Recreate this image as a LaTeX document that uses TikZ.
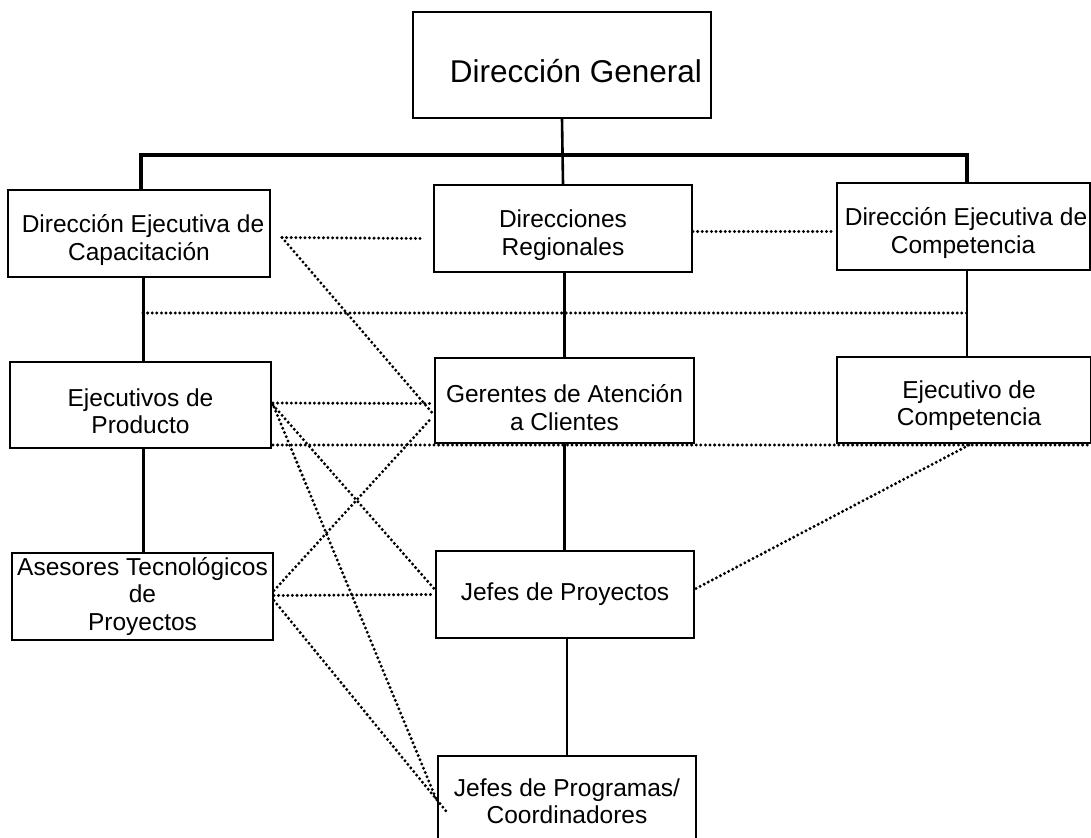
\documentclass[tikz,border=0pt]{standalone}
\usepackage{fontspec}
\setmainfont{Liberation Sans}
\usetikzlibrary{calc}
\newcommand{\topstrut}[1]{\rule{0pt}{#1}}
\begin{document}
\begin{tikzpicture}[x=1pt,y=-1pt,
  box/.style={draw, line width=2pt, inner sep=2pt, align=center,
    font=\fontsize{24.5}{27.5}\selectfont, minimum height=87pt},
  trunk/.style={line width=2.6pt},
  bus/.style={line width=3.6pt},
  dots/.style={line width=3.3pt, line cap=round, dash pattern=on 0pt off 4.6pt}]
\useasboundingbox[fill=white] (0,0) rectangle (1091,837);

% boxes
\node[box, minimum width=298pt, minimum height=106pt, font=\fontsize{31.5}{34}\selectfont] (DG) at (562,65) {\topstrut{35pt}\hspace*{28pt}Dirección General};
\node[box, minimum width=262pt] (DEC) at (139,233.5) {\topstrut{31pt}\hspace*{8pt}Dirección Ejecutiva de\\Capacitación};
\node[box, minimum width=258pt] (DR) at (563,228.5) {\topstrut{31pt}Direcciones\\Regionales};
\node[box, minimum width=253pt] (DECo) at (963,226.5) {\topstrut{31pt}\hspace*{6pt}Dirección Ejecutiva de\\Competencia};
\node[box, minimum width=261pt, minimum height=86pt] (EP) at (140.5,405) {\topstrut{30pt}Ejecutivos de\\Producto};
\node[box, minimum width=259pt, minimum height=85pt] (GAC) at (564.5,400.5) {\topstrut{32pt}Gerentes de Atención\\a Clientes};
\node[box, minimum width=254pt, minimum height=86pt] (EC) at (964,400) {\topstrut{29pt}\hspace*{10pt}Ejecutivo de\\\hspace*{10pt}Competencia};
\node[box, minimum width=261pt] (AT) at (142.5,596.5) {Asesores Tecnológicos\\de\\Proyectos};
\node[box, minimum width=258pt] (JP) at (565,594.5) {Jefes de Proyectos};
\node[box, minimum width=258pt, minimum height=90pt] (JPC) at (567,801) {Jefes de Programas/\\Coordinadores};

% solid hierarchy
\coordinate (busC) at (562,155);
\draw[trunk] (DG.south) -- (DR.north);
\draw[bus] ([xshift=2pt]DEC.north) |- (busC) -| ([xshift=4pt]DECo.north);
\draw[trunk] ([xshift=3pt]EP.north |- DEC.south) -- ([xshift=3pt]EP.north);
\draw[trunk] ([xshift=3pt]EP.south) -- ([xshift=3pt]EP.south |- AT.north);
\draw[trunk] (GAC.north |- DR.south) -- (GAC.north);
\draw[trunk] (GAC.south) -- (GAC.south |- JP.north);
\draw[trunk] (JPC.north |- JP.south) -- (JPC.north);
\draw[trunk] ([xshift=3pt]EC.north |- DECo.south) -- ([xshift=3pt]EC.north);

% dotted relations
\coordinate (hL) at (143,313);
\coordinate (hR) at (967,313);
\coordinate (bR) at (1091,445);
\coordinate (decOut) at ($(DEC.east)+(11,4)$);
\coordinate (gacIn1) at ($(GAC.west)+(-2,12)$);
\coordinate (gacIn2) at ($(GAC.west)+(-2,17)$);
\coordinate (jpIn) at ($(JP.west)+(-1,-6)$);
\coordinate (jpcIn1) at ($(JPC.north west)+(0,46)$);
\coordinate (jpcIn2) at ($(JPC.north west)+(9,56)$);
\coordinate (ecIn) at ($(EC.south)+(7,0)$);

\draw[dots] (decOut) -- ($(DR.west)+(-10,10)$);
\draw[dots] ($(DR.east)+(0,3)$) -- ($(DECo.west)+(0,5)$);
\draw[dots] (hL) -- (hR);
\draw[dots] (decOut) -- (gacIn1);
\draw[dots] ($(EP.east)+(1,-2)$) -- ($(GAC.west)+(-2,3)$);
\draw[dots] ($(EP.east)+(1,0)$) -- (jpIn);
\draw[dots] ($(EP.east)+(2,2)$) -- (jpcIn1);
\draw[dots] ($(EP.east)+(1,40)$) -- (bR);
\draw[dots] ($(AT.east)+(0,-6)$) -- (gacIn2);
\draw[dots] ($(AT.east)+(0,-1)$) -- ($(JP.west)+(-1,0)$);
\draw[dots] ($(AT.east)+(0,4)$) -- (jpcIn2);
\draw[dots] ($(JP.east)+(1,-6)$) -- (ecIn);
\end{tikzpicture}
\end{document}
